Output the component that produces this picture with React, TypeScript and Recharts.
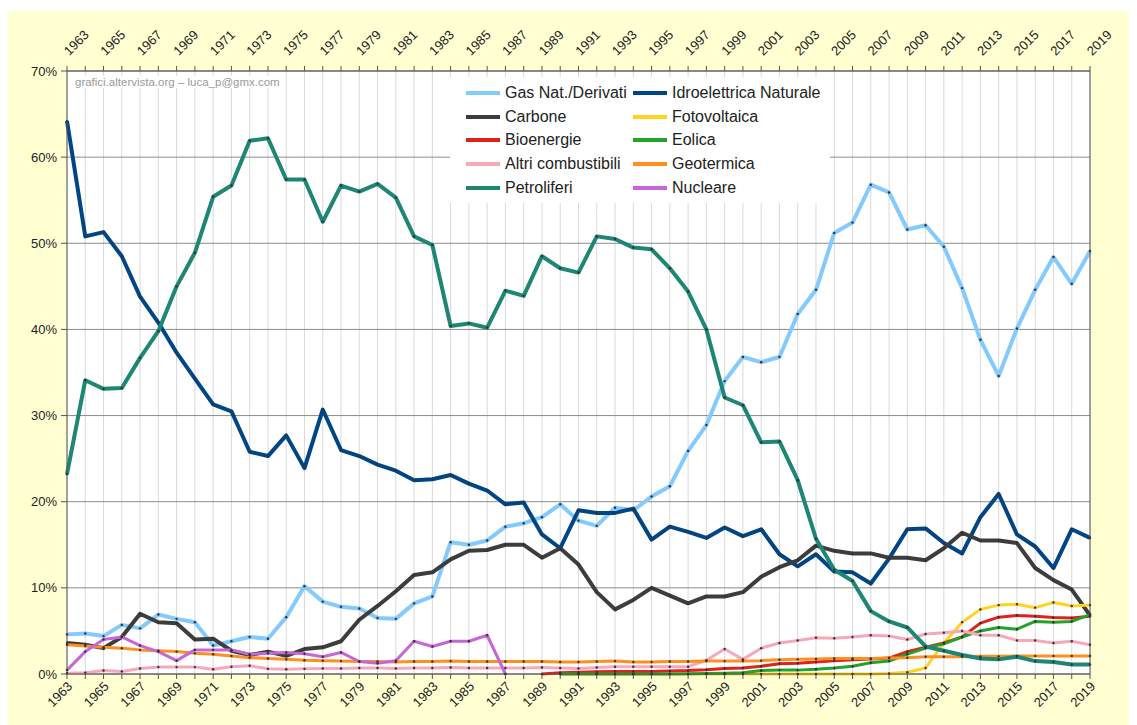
import React from 'react';
import { LineChart, Line, XAxis, YAxis, CartesianGrid, ReferenceLine, Legend } from 'recharts';

const years = [
  1963, 1964, 1965, 1966, 1967, 1968, 1969, 1970, 1971, 1972,
  1973, 1974, 1975, 1976, 1977, 1978, 1979, 1980, 1981, 1982,
  1983, 1984, 1985, 1986, 1987, 1988, 1989, 1990, 1991, 1992,
  1993, 1994, 1995, 1996, 1997, 1998, 1999, 2000, 2001, 2002,
  2003, 2004, 2005, 2006, 2007, 2008, 2009, 2010, 2011, 2012,
  2013, 2014, 2015, 2016, 2017, 2018, 2019,
];

// from 1963
const gas = [
  4.6, 4.7, 4.4, 5.7, 5.3, 6.9, 6.4, 6.0, 3.3, 3.8,
  4.3, 4.1, 6.6, 10.2, 8.4, 7.8, 7.6, 6.5, 6.4, 8.2,
  9.0, 15.3, 15.0, 15.5, 17.1, 17.5, 18.2, 19.7, 17.8, 17.2,
  19.3, 19.0, 20.6, 21.8, 25.9, 28.9, 34.0, 36.8, 36.2, 36.8,
  41.8, 44.6, 51.2, 52.4, 56.8, 55.9, 51.6, 52.1, 49.6, 44.8,
  38.8, 34.6, 40.1, 44.6, 48.4, 45.3, 49.1,
];
const idro = [
  64.2, 50.8, 51.3, 48.5, 43.8, 40.8, 37.3, 34.3, 31.3, 30.5,
  25.8, 25.3, 27.7, 23.9, 30.7, 26.0, 25.3, 24.3, 23.6, 22.5,
  22.6, 23.1, 22.1, 21.3, 19.7, 19.9, 16.2, 14.6, 19.0, 18.7,
  18.7, 19.2, 15.6, 17.1, 16.5, 15.8, 17.0, 16.0, 16.8, 13.9,
  12.5, 13.9, 11.9, 11.8, 10.5, 13.4, 16.8, 16.9, 15.2, 14.0,
  18.2, 20.9, 16.2, 14.8, 12.3, 16.8, 15.8,
];
const carbone = [
  3.6, 3.4, 3.0, 4.3, 7.0, 6.0, 5.9, 4.0, 4.1, 2.7,
  2.2, 2.6, 2.1, 2.9, 3.1, 3.8, 6.3, 7.9, 9.6, 11.5,
  11.8, 13.3, 14.3, 14.4, 15.0, 15.0, 13.5, 14.6, 12.7, 9.5,
  7.5, 8.6, 10.0, 9.1, 8.2, 9.0, 9.0, 9.5, 11.3, 12.4,
  13.2, 14.9, 14.3, 14.0, 14.0, 13.5, 13.5, 13.2, 14.6, 16.4,
  15.5, 15.5, 15.2, 12.3, 10.9, 9.8, 6.8,
];
// from 1990
const fotoStart = 1990;
const fotovoltaica = [
  0, 0, 0, 0, 0, 0, 0, 0, 0, 0,
  0, 0, 0, 0, 0, 0, 0, 0, 0.05, 0.2,
  0.7, 3.6, 6.0, 7.5, 8.0, 8.1, 7.7, 8.3, 7.9, 8.0,
];
// from 1989
const bioStart = 1989;
const bioenergie = [
  0.0, 0.15, 0.2, 0.25, 0.3, 0.3, 0.3, 0.35, 0.4, 0.5,
  0.65, 0.7, 0.9, 1.2, 1.25, 1.4, 1.55, 1.65, 1.75, 1.85,
  2.6, 3.1, 3.6, 4.3, 5.9, 6.6, 6.8, 6.7, 6.55, 6.5, 6.7,
];
// from 1990
const eolStart = 1990;
const eolica = [
  0, 0, 0, 0, 0, 0, 0.01, 0.02, 0.05, 0.1,
  0.15, 0.4, 0.45, 0.45, 0.55, 0.7, 0.9, 1.3, 1.5, 2.3,
  3.0, 3.5, 4.3, 5.0, 5.4, 5.2, 6.1, 6.0, 6.1, 6.9,
];
const altri = [
  0.1, 0.15, 0.4, 0.3, 0.65, 0.8, 0.8, 0.8, 0.55, 0.85,
  0.95, 0.6, 0.55, 0.6, 0.65, 0.65, 0.7, 0.7, 0.65, 0.7,
  0.7, 0.75, 0.7, 0.7, 0.7, 0.7, 0.75, 0.7, 0.65, 0.75,
  0.85, 0.85, 0.85, 0.85, 0.85, 1.6, 2.9, 1.7, 3.0, 3.6,
  3.9, 4.2, 4.15, 4.3, 4.5, 4.4, 4.0, 4.65, 4.8, 5.0,
  4.5, 4.5, 3.9, 3.9, 3.6, 3.8, 3.4,
];
const geotermica = [
  3.4, 3.25, 3.1, 3.0, 2.8, 2.7, 2.6, 2.4, 2.3, 2.1,
  1.9, 1.8, 1.7, 1.6, 1.55, 1.5, 1.45, 1.45, 1.4, 1.45,
  1.45, 1.5, 1.45, 1.45, 1.45, 1.45, 1.45, 1.4, 1.4, 1.45,
  1.5, 1.4, 1.4, 1.45, 1.45, 1.5, 1.5, 1.5, 1.55, 1.65,
  1.7, 1.75, 1.8, 1.8, 1.8, 1.85, 1.9, 2.0, 2.0, 2.0,
  2.05, 2.05, 2.1, 2.1, 2.1, 2.1, 2.1,
];
const petroliferi = [
  23.2, 34.1, 33.1, 33.2, 36.7, 39.8, 45.0, 48.9, 55.4, 56.7,
  61.9, 62.2, 57.4, 57.4, 52.5, 56.7, 56.0, 56.9, 55.3, 50.8,
  49.8, 40.4, 40.7, 40.2, 44.5, 43.9, 48.5, 47.1, 46.6, 50.8,
  50.5, 49.5, 49.3, 47.1, 44.4, 40.0, 32.1, 31.2, 26.9, 27.0,
  22.5, 15.7, 12.1, 10.8, 7.3, 6.1, 5.4, 3.2, 2.7, 2.2,
  1.8, 1.7, 2.0, 1.5, 1.4, 1.1, 1.1,
];
// 1963 - 1987
const nucleare = [
  0.45, 2.6, 4.0, 4.3, 3.3, 2.6, 1.55, 2.8, 2.8, 2.8,
  2.3, 2.4, 2.5, 2.35, 2.0, 2.5, 1.45, 1.25, 1.55, 3.8,
  3.2, 3.8, 3.8, 4.5, 0.0,
];

const percentTicks = [0, 10, 20, 30, 40, 50, 60, 70];
const minorTicks = [
  0, 2, 4, 6, 8, 10, 12, 14, 16, 18, 20, 22, 24, 26, 28, 30, 32, 34, 36,
  38, 40, 42, 44, 46, 48, 50, 52, 54, 56, 58, 60, 62, 64, 66, 68, 70,
];

const seriesNames = [
  'Gas Nat./Derivati', 'Idroelettrica Naturale', 'Carbone', 'Fotovoltaica',
  'Bioenergie', 'Eolica', 'Altri combustibili', 'Geotermica', 'Petroliferi', 'Nucleare',
];

const fromStart = (arr: number[], start: number, year: number) => {
  const idx = year - start;
  return idx >= 0 && idx < arr.length ? arr[idx] : null;
};

const data = years.map((year, i) => ({
  year,
  gas: gas[i],
  idro: idro[i],
  carbone: carbone[i],
  foto: fromStart(fotovoltaica, fotoStart, year),
  bio: fromStart(bioenergie, bioStart, year),
  eolica: fromStart(eolica, eolStart, year),
  altri: altri[i],
  geo: geotermica[i],
  petro: petroliferi[i],
  nucleare: fromStart(nucleare, 1963, year),
}));

const series = [
  { key: 'gas', name: seriesNames[0], color: '#83CAFF', width: 4 },
  { key: 'idro', name: seriesNames[1], color: '#004586', width: 4 },
  { key: 'carbone', name: seriesNames[2], color: '#3d3d3d', width: 4 },
  { key: 'foto', name: seriesNames[3], color: '#FFD320', width: 3 },
  { key: 'bio', name: seriesNames[4], color: '#E0221B', width: 3 },
  { key: 'eolica', name: seriesNames[5], color: '#22A32A', width: 3 },
  { key: 'altri', name: seriesNames[6], color: '#F5A9BA', width: 3 },
  { key: 'geo', name: seriesNames[7], color: '#FF8F1F', width: 3 },
  { key: 'petro', name: seriesNames[8], color: '#1D8675', width: 4 },
  { key: 'nucleare', name: seriesNames[9], color: '#C766D6', width: 3 },
];

const FONT = '"Liberation Sans", Arial, sans-serif';

const BottomTick = (props: any) => {
  const { x, y, payload } = props;
  const yr = payload.value;
  if ((yr - 1963) % 2 !== 0) return <g />;
  const ax = x + 3;
  const ay = y + 3;
  return (
    <text x={ax} y={ay} transform={`rotate(-45 ${ax} ${ay})`} textAnchor="end"
      dominantBaseline="central" fontSize={13} fill="#222" fontFamily={FONT}>
      {yr}
    </text>
  );
};

const TopTick = (props: any) => {
  const { x, y, payload } = props;
  const yr = payload.value;
  if ((yr - 1963) % 2 !== 0) return <g />;
  const ax = x - 1;
  const ay = y - 11;
  return (
    <text x={ax} y={ay} transform={`rotate(-45 ${ax} ${ay})`} textAnchor="start"
      dominantBaseline="central" fontSize={13} fill="#222" fontFamily={FONT}>
      {yr}
    </text>
  );
};

const LeftTick = (props: any) => {
  const { x, y, payload } = props;
  return (
    <text x={x} y={y} textAnchor="end" dominantBaseline="central" fontSize={13}
      fill="#222" fontFamily={FONT}>{`${payload.value}%`}</text>
  );
};

const RightTick = (props: any) => {
  const { x, y, payload } = props;
  return (
    <text x={x} y={y} textAnchor="start" dominantBaseline="central" fontSize={13}
      fill="#222" fontFamily={FONT}>{`${payload.value}%`}</text>
  );
};

const renderLegend = (props: any) => {
  const payload = [...(props.payload || [])].sort(
    (a: any, b: any) => seriesNames.indexOf(a.value) - seriesNames.indexOf(b.value),
  );
  return (
    <div style={{
      background: '#fff', width: 380, height: 126, boxSizing: 'border-box',
      padding: '4px 0 0 16px', fontFamily: FONT,
      display: 'grid', gridTemplateColumns: '167px 197px', gridAutoRows: '23.7px',
    }}>
      {payload.map((entry: any) => (
        <div key={entry.value} style={{ display: 'flex', alignItems: 'center' }}>
          <span style={{ display: 'inline-block', flex: 'none', width: 34, height: 4, background: entry.color, marginRight: 5 }} />
          <span style={{ fontSize: 16, color: '#222', whiteSpace: 'nowrap' }}>{entry.value}</span>
        </div>
      ))}
    </div>
  );
};

export default function App() {
  return (
    <div style={{ paddingTop: 3, background: '#fff' }}>
      <div style={{ position: 'relative', width: 1129, height: 714, background: '#FFFFD2' }}>
        <LineChart width={1129} height={714} data={data}
          margin={{ top: 20, right: 7, bottom: 11, left: 4 }}>
          <XAxis xAxisId="bottom" dataKey="year" type="number" domain={[1963, 2019]} ticks={years}
            interval={0} orientation="bottom" height={40} tick={<BottomTick />} tickSize={5}
            stroke="#555" tickLine={{ stroke: '#555' }} />
          <XAxis xAxisId="top" dataKey="year" type="number" domain={[1963, 2019]} ticks={years}
            interval={0} orientation="top" height={40} tick={<TopTick />} tickSize={5}
            stroke="#555" tickLine={{ stroke: '#555' }} />
          <YAxis yAxisId="grid" orientation="right" hide width={0} domain={[0, 70]} ticks={minorTicks} interval={0} />
          <YAxis yAxisId="left" orientation="left" domain={[0, 70]} ticks={percentTicks} width={55}
            tickSize={6} tickMargin={4} stroke="#555" tick={<LeftTick />} interval={0} />
          <YAxis yAxisId="right" orientation="right" domain={[0, 70]} ticks={percentTicks} width={40}
            tickSize={6} tickMargin={3} stroke="#555" tick={<RightTick />} interval={0} />
          <CartesianGrid xAxisId="bottom" yAxisId="grid" stroke="#d9d9d9" fill="#fff" fillOpacity={1} />
          {percentTicks.map((v) => (
            <ReferenceLine key={v} yAxisId="left" xAxisId="bottom" y={v} stroke="#8c8c8c" strokeWidth={1} />
          ))}
          <Legend layout="vertical" verticalAlign="middle" align="center" content={renderLegend}
            wrapperStyle={{ left: 442, top: 66, width: 380, height: 126 }} />
          {series.map((s) => (
            <Line key={s.key} xAxisId="bottom" yAxisId="left" type="linear" dataKey={s.key} name={s.name}
              stroke={s.color} strokeWidth={s.width} strokeLinejoin="round" connectNulls={false}
              dot={{ r: 1.2, fill: '#333', stroke: 'none' }} isAnimationActive={false} />
          ))}
        </LineChart>
        <div style={{ position: 'absolute', left: 65, top: 65, fontFamily: FONT, fontSize: 11.5,
          color: '#9a9a9a', background: '#fff', padding: '0 2px' }}>
          grafici.altervista.org – luca_p@gmx.com
        </div>
      </div>
    </div>
  );
}
